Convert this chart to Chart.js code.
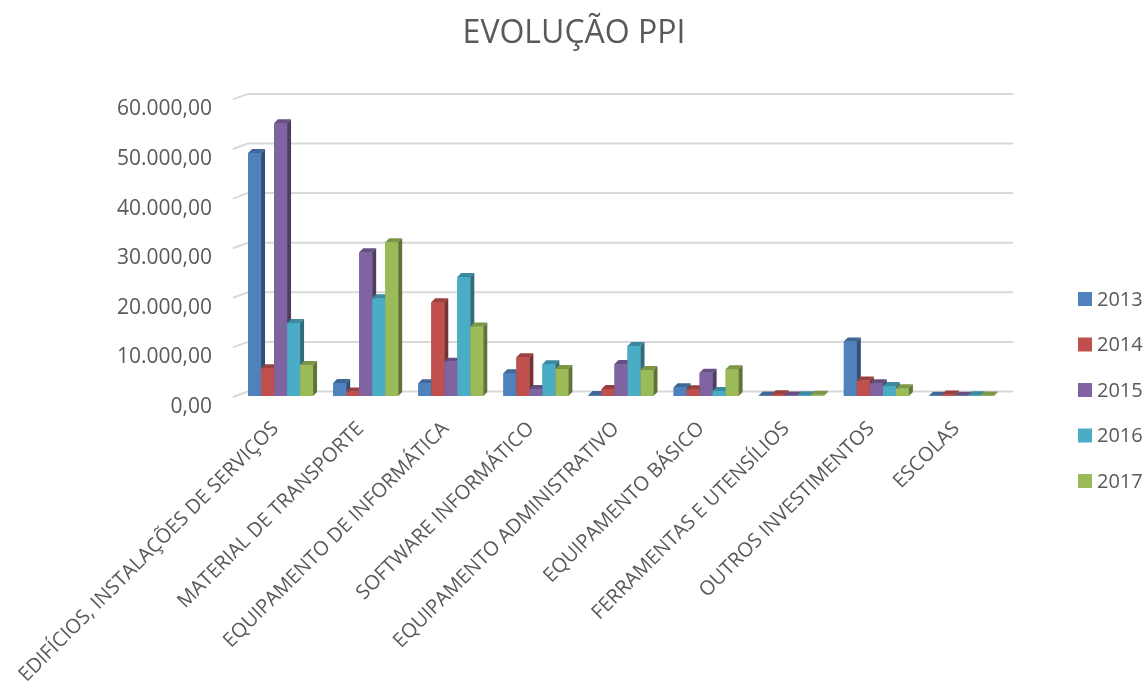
<!DOCTYPE html>
<html>
<head>
<meta charset="utf-8">
<title>EVOLUÇÃO PPI</title>
<script src="https://cdn.jsdelivr.net/npm/chart.js@4/dist/chart.umd.min.js"></script>
<style>
  html, body { margin: 0; padding: 0; background: #ffffff; }
  #wrap { width: 1148px; height: 691px; position: relative; }
</style>
</head>
<body>
<div id="wrap"><canvas id="chart" width="1148" height="691"></canvas></div>
<script>
// Investment categories (x axis)
const categories = [
  'EDIFÍCIOS, INSTALAÇÕES DE SERVIÇOS',
  'MATERIAL DE TRANSPORTE',
  'EQUIPAMENTO DE INFORMÁTICA',
  'SOFTWARE INFORMÁTICO',
  'EQUIPAMENTO ADMINISTRATIVO',
  'EQUIPAMENTO BÁSICO',
  'FERRAMENTAS E UTENSÍLIOS',
  'OUTROS INVESTIMENTOS',
  'ESCOLAS'
];

// One series per year
const years = ['2013', '2014', '2015', '2016', '2017'];
const v2013 = [49000, 2600, 2550, 4600, 200, 1750, 100, 11000, 50];
const v2014 = [5600, 900, 18900, 7800, 1400, 1350, 350, 3100, 300];
const v2015 = [55000, 29000, 6900, 1400, 6450, 4700, 100, 2550, 50];
const v2016 = [14700, 19700, 24000, 6400, 10100, 1000, 150, 2000, 150];
const v2017 = [6250, 31000, 14000, 5450, 5250, 5400, 250, 1550, 100];

// Value axis tick marks
const yTicks = [0, 10000, 20000, 30000, 40000, 50000, 60000];

const seriesValues = [v2013, v2014, v2015, v2016, v2017];
const frontColors = ['#4F81BD', '#C0504D', '#8064A2', '#4BACC6', '#9BBB59'];
const textColor = '#595959';
const fontFamily = "'Open Sans', 'Liberation Sans', sans-serif";

function shade(hex, f) {
  const n = parseInt(hex.slice(1), 16);
  const r = Math.round(((n >> 16) & 255) * f);
  const g = Math.round(((n >> 8) & 255) * f);
  const b = Math.round((n & 255) * f);
  return 'rgb(' + r + ',' + g + ',' + b + ')';
}

// "60.000,00" style number format
function formatValue(v) {
  const parts = Math.abs(v).toFixed(2).split('.');
  const intPart = parts[0].replace(/\B(?=(\d{3})+(?!\d))/g, '.');
  return (v < 0 ? '-' : '') + intPart + ',' + parts[1];
}

// Depth of the pseudo-3D columns
const DEPTH_X = 4;
const DEPTH_Y = -4;

// Back-wall gridlines with the slanted floor edge on the left
const wallGrid = {
  id: 'wallGrid',
  beforeDatasetsDraw(chart) {
    const { ctx, chartArea: a } = chart;
    const y = chart.scales.y;
    ctx.save();
    ctx.strokeStyle = '#D9D9D9';
    ctx.lineWidth = 2;
    y.ticks.forEach(t => {
      const yf = y.getPixelForValue(t.value);
      ctx.beginPath();
      ctx.moveTo(a.left - 5, yf + 1);
      ctx.lineTo(a.left + 10, yf - 4.5);
      ctx.lineTo(a.right + 9, yf - 4.5);
      ctx.stroke();
    });
    ctx.restore();
  }
};

// Columns with top and side faces, drawn left to right in each group
const columns3d = {
  id: 'columns3d',
  afterDatasetsDraw(chart) {
    const ctx = chart.ctx;
    const nCat = chart.data.labels.length;
    ctx.save();
    for (let j = 0; j < nCat; j++) {
      chart.data.datasets.forEach((ds, i) => {
        const meta = chart.getDatasetMeta(i);
        const el = meta.data[j];
        if (!el) return;
        const p = el.getProps(['x', 'y', 'base', 'width'], true);
        const left = p.x - p.width / 2;
        const right = p.x + p.width / 2;
        const top = Math.min(p.y, p.base);
        const bottom = Math.max(p.y, p.base);
        const col = frontColors[i];
        // front
        ctx.fillStyle = col;
        ctx.fillRect(left, top, p.width, bottom - top);
        // top face
        ctx.fillStyle = shade(col, 0.8);
        ctx.beginPath();
        ctx.moveTo(left, top);
        ctx.lineTo(left + DEPTH_X, top + DEPTH_Y);
        ctx.lineTo(right + DEPTH_X, top + DEPTH_Y);
        ctx.lineTo(right, top);
        ctx.closePath();
        ctx.fill();
        // side face
        ctx.fillStyle = shade(col, 0.62);
        ctx.beginPath();
        ctx.moveTo(right, top);
        ctx.lineTo(right + DEPTH_X, top + DEPTH_Y);
        ctx.lineTo(right + DEPTH_X, bottom + DEPTH_Y);
        ctx.lineTo(right, bottom);
        ctx.closePath();
        ctx.fill();
      });
    }
    ctx.restore();
  }
};

// Year legend on the right
const yearLegend = {
  id: 'yearLegend',
  afterDraw(chart) {
    const ctx = chart.ctx;
    ctx.save();
    ctx.font = '20px ' + fontFamily;
    ctx.textBaseline = 'middle';
    ctx.textAlign = 'left';
    chart.data.datasets.forEach((ds, i) => {
      const cy = 299 + i * 45.5;
      ctx.fillStyle = frontColors[i];
      ctx.fillRect(1078, cy - 7, 14, 14);
      ctx.fillStyle = textColor;
      ctx.fillText(ds.label, 1097, cy + 1);
    });
    ctx.restore();
  }
};

const chart = new Chart(document.getElementById('chart'), {
  type: 'bar',
  data: {
    labels: categories,
    datasets: years.map((yr, i) => ({
      label: yr,
      data: seriesValues[i],
      backgroundColor: frontColors[i],
      borderWidth: 0,
      categoryPercentage: 0.764,
      barPercentage: 1.0
    }))
  },
  options: {
    responsive: false,
    animation: false,
    events: [],
    layout: { padding: { left: 0, right: 0, top: 0, bottom: 0 } },
    plugins: {
      legend: { display: false },
      tooltip: { enabled: false },
      title: {
        display: true,
        text: 'EVOLUÇÃO PPI',
        color: textColor,
        font: { family: fontFamily, size: 32, weight: 'normal' },
        padding: { top: 15, bottom: 45 }
      }
    },
    scales: {
      x: {
        grid: { display: false, drawTicks: false },
        border: { display: false },
        ticks: {
          autoSkip: false,
          minRotation: 45,
          maxRotation: 45,
          color: textColor,
          font: { family: fontFamily, size: 20 },
          padding: 21,
          labelOffset: -5
        },
        afterFit(scale) {
          scale.height = 295;
          scale.paddingLeft = 0;
          scale.paddingRight = 0;
        }
      },
      y: {
        min: 0,
        max: 60000,
        grid: { display: false, drawTicks: false },
        border: { display: false },
        ticks: {
          color: textColor,
          font: { family: fontFamily, size: 21 },
          padding: 26,
          labelOffset: 11,
          callback: (v) => formatValue(v)
        },
        afterBuildTicks(scale) { scale.ticks = yTicks.map(v => ({ value: v })); },
        afterFit(scale) { scale.width = 238; }
      },
      // empty band on the right that holds the year legend
      legendBand: {
        type: 'linear',
        position: 'right',
        display: true,
        grid: { display: false, drawTicks: false },
        border: { display: false },
        ticks: { display: false },
        afterFit(scale) { scale.width = 144; }
      }
    }
  },
  plugins: [wallGrid, columns3d, yearLegend]
});
</script>
</body>
</html>
